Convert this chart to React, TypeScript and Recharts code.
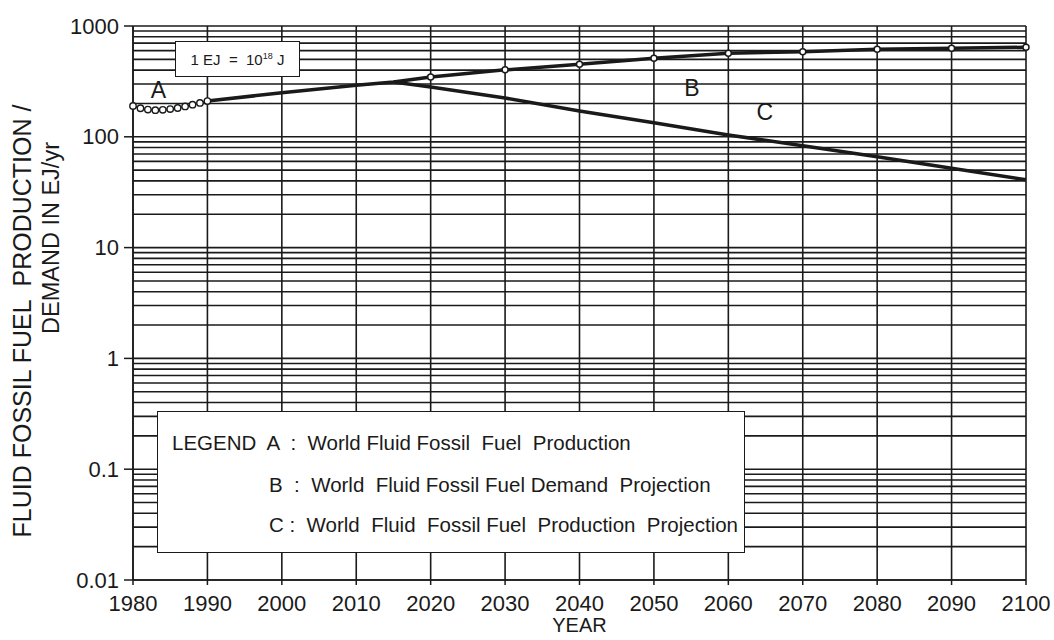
import { LineChart, Line, XAxis, YAxis, CartesianGrid, ReferenceDot } from "recharts";

// A: world fluid fossil fuel production (historic, annual)
const aYears = [1980, 1981, 1982, 1983, 1984, 1985, 1986, 1987, 1988, 1989, 1990];
const aValues = [190, 181, 176, 174, 175, 178, 182, 188, 195, 202, 210];

// B: demand projection
const bYears = [1990, 2000, 2010, 2015, 2020, 2030, 2040, 2050, 2060, 2070, 2080, 2090, 2100];
const bValues = [210, 250, 292, 312, 347, 402, 452, 512, 567, 586, 617, 630, 643];

// C: production projection
const cYears = [2015, 2020, 2030, 2040, 2050, 2060, 2070, 2080, 2090, 2100];
const cValues = [312, 282, 224, 171, 134, 104, 83, 66, 52, 41];

const xTicks = [1980, 1990, 2000, 2010, 2020, 2030, 2040, 2050, 2060, 2070, 2080, 2090, 2100];
const decades = [0.01, 0.1, 1, 10, 100, 1000];
const mantissas = [2, 3, 4, 5, 6, 7, 8, 9];

// curve letters placed in data space
const letters = [
    { key: "A", year: 1983.4, value: 265 },
    { key: "B", year: 2055.1, value: 276 },
    { key: "C", year: 2064.9, value: 168 },
];

const allYears = Array.from(new Set([...aYears, ...bYears, ...cYears])).sort((p, q) => p - q);
const data = allYears.map((year) => {
    const ai = aYears.indexOf(year);
    const bi = bYears.indexOf(year);
    const ci = cYears.indexOf(year);
    return {
        year,
        a: ai >= 0 ? aValues[ai] : null,
        b: bi >= 0 ? bValues[bi] : null,
        c: ci >= 0 ? cValues[ci] : null,
    };
});

const yTicks = decades
    .flatMap((d) => (d === 1000 ? [d] : [d, ...mantissas.map((m) => +(m * d).toPrecision(3))]))
    .sort((p, q) => p - q);

const FONT = "'Liberation Sans', Arial, sans-serif";
const INK = "#1a1a1a";

function YTick(props: any) {
    const { x, y, payload } = props;
    if (!decades.includes(payload.value)) return <g />;
    return (
        <g>
            <line x1={x - 9} x2={x} y1={y} y2={y} stroke={INK} strokeWidth={1.5} />
            <text x={x - 14} y={y} textAnchor="end" dominantBaseline="central" fontSize={22} fill={INK} fontFamily={FONT}>
                {String(payload.value)}
            </text>
        </g>
    );
}

function YTitle() {
    return (
        <g fontFamily={FONT} fill={INK}>
            <text x={22} y={321} transform="rotate(-90 22 321)" fontSize={25} textAnchor="middle" dominantBaseline="central" style={{ whiteSpace: "pre" }}>
                FLUID FOSSIL FUEL  PRODUCTION /
            </text>
            <text x={51} y={238} transform="rotate(-90 51 238)" fontSize={23.5} textAnchor="middle" dominantBaseline="central">
                DEMAND IN EJ/yr
            </text>
        </g>
    );
}

function BDot(props: any) {
    const { cx, cy, payload, index } = props;
    if (cy == null || payload.year < 2020) return <g key={`bd-${index}`} />;
    return <circle key={`bd-${index}`} cx={cx} cy={cy} r={3} fill="#fff" stroke={INK} strokeWidth={1.5} />;
}

const legendLine: React.CSSProperties = { position: "absolute", whiteSpace: "pre", fontSize: 20.5, lineHeight: "24px" };

export default function App() {
    return (
        <div style={{ position: "absolute", left: 0, top: 0, width: 1054, height: 640, background: "#fff", fontFamily: FONT, color: INK }}>
            <LineChart width={1054} height={640} data={data} margin={{ top: 26, right: 28, bottom: 0, left: 0 }}>
                <CartesianGrid stroke={INK} strokeWidth={1.6} />
                <XAxis
                    dataKey="year"
                    type="number"
                    domain={[1980, 2100]}
                    ticks={xTicks}
                    interval={0}
                    height={60}
                    stroke={INK}
                    strokeWidth={1.5}
                    tickSize={5}
                    tickMargin={10}
                    tick={{ fontSize: 22, fill: INK, fontFamily: FONT }}
                    label={{ value: "YEAR", position: "insideBottom", offset: 8, fontSize: 20, fill: INK, fontFamily: FONT }}
                />
                <YAxis
                    scale="log"
                    domain={[0.01, 1000]}
                    ticks={yTicks}
                    interval={0}
                    width={133}
                    allowDataOverflow
                    stroke={INK}
                    strokeWidth={1.5}
                    tickLine={false}
                    tickSize={0}
                    tickMargin={0}
                    tick={<YTick />}
                    label={<YTitle />}
                />
                <Line
                    dataKey="c"
                    stroke={INK}
                    strokeWidth={3.5}
                    dot={false}
                    isAnimationActive={false}
                    type="linear"
                />
                <Line
                    dataKey="b"
                    stroke={INK}
                    strokeWidth={3.5}
                    dot={BDot}
                    activeDot={false}
                    isAnimationActive={false}
                    type="linear"
                />
                <Line
                    dataKey="a"
                    stroke={INK}
                    strokeWidth={1.5}
                    dot={{ r: 3.2, fill: "#fff", stroke: INK, strokeWidth: 1.4 }}
                    activeDot={false}
                    isAnimationActive={false}
                    type="linear"
                />
                {letters.map((l) => (
                    <ReferenceDot
                        key={l.key}
                        x={l.year}
                        y={l.value}
                        r={0.1}
                        fill="none"
                        stroke="none"
                        label={{ value: l.key, position: "center", fontSize: 23, fill: INK, fontFamily: FONT }}
                    />
                ))}
            </LineChart>

            <div
                style={{
                    position: "absolute",
                    left: 175,
                    top: 41,
                    width: 125,
                    height: 36,
                    boxSizing: "border-box",
                    border: `1.5px solid ${INK}`,
                    background: "#fff",
                    fontSize: 15,
                    display: "flex",
                    alignItems: "center",
                    justifyContent: "center",
                }}
            >
                <span style={{ whiteSpace: "pre" }}>
                    1 EJ  =  10<sup style={{ fontSize: 9, verticalAlign: 6 }}>18</sup> J
                </span>
            </div>

            <div
                style={{
                    position: "absolute",
                    left: 157,
                    top: 411,
                    width: 588,
                    height: 142,
                    boxSizing: "border-box",
                    border: `1.5px solid ${INK}`,
                    background: "#fff",
                }}
            >
                <div style={{ ...legendLine, left: 14, top: 19 }}>LEGEND  A  :  World Fluid Fossil  Fuel  Production</div>
                <div style={{ ...legendLine, left: 111, top: 61 }}>B  :  World  Fluid Fossil Fuel Demand  Projection</div>
                <div style={{ ...legendLine, left: 111, top: 101 }}>C :  World  Fluid  Fossil Fuel  Production  Projection</div>
            </div>
        </div>
    );
}
